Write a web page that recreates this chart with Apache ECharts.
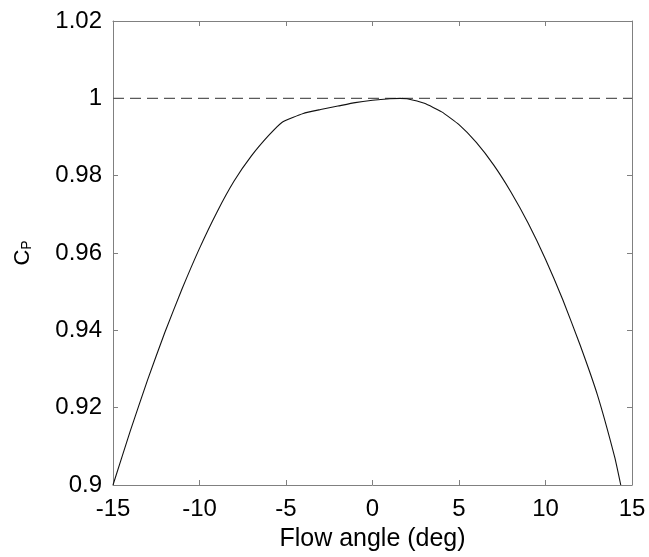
<!DOCTYPE html>
<html>
<head>
<meta charset="utf-8">
<script src="https://cdn.jsdelivr.net/npm/echarts@6/dist/echarts.min.js"></script>
<style>html,body{margin:0;padding:0;background:#fff;}#c{width:649px;height:557px;}</style>
</head>
<body>
<div id="c"></div>
<script>
// Flow angle (deg)
var flowAngle = [-15, -14, -13, -12, -11, -10, -9, -8, -7, -6, -5.2, -4, -3, -2, -1, 0, 1, 1.6, 2, 3, 4, 5, 6, 7, 8, 9, 10, 11, 12, 13, 14, 14.35];
// Pressure coefficient C_P
var cp = [0.9000, 0.9140, 0.9272, 0.9395, 0.9508, 0.9612, 0.9705, 0.9786, 0.9851, 0.9904, 0.9939, 0.9961, 0.9971, 0.9980, 0.9989, 0.9995, 0.9999, 1.0000, 0.9999, 0.9987, 0.9965, 0.9932, 0.9886, 0.9828, 0.9758, 0.9677, 0.9584, 0.9479, 0.9362, 0.9233, 0.9072, 0.9000];
var refX = [-15, 15];
var refY = [1, 1];
var xTicks = [-15, -10, -5, 0, 5, 10, 15];
var yTicks = [0.9, 0.92, 0.94, 0.96, 0.98, 1, 1.02];

var txt = '#000000';
var axisCol = '#808080';
var fontFam = 'Liberation Sans, Arial, sans-serif';

var chart = echarts.init(document.getElementById('c'), null, {renderer: 'canvas'});
function pairs(a, b) { return a.map(function (v, i) { return [v, b[i]]; }); }
function fmtY(v) { return String(Math.round(v * 100) / 100); }

var baseX = {
  type: 'value', min: xTicks[0], max: xTicks[xTicks.length - 1], interval: 5,
  axisLine: {show: true, onZero: false, lineStyle: {color: axisCol, width: 1}},
  axisTick: {show: true, inside: true, length: 5, lineStyle: {color: axisCol}},
  splitLine: {show: false}
};
var baseY = {
  type: 'value', min: yTicks[0], max: yTicks[yTicks.length - 1], interval: 0.02,
  axisLine: {show: true, onZero: false, lineStyle: {color: axisCol, width: 1}},
  axisTick: {show: true, inside: true, length: 5, lineStyle: {color: axisCol}},
  splitLine: {show: false}
};

chart.setOption({
  animation: false,
  backgroundColor: '#ffffff',
  grid: {left: 113, right: 17, top: 21, bottom: 72, containLabel: false},
  xAxis: [
    Object.assign({}, baseX, {
      position: 'bottom',
      axisLabel: {show: true, margin: 12, color: txt, fontSize: 24, fontFamily: fontFam},
      name: 'Flow angle (deg)', nameLocation: 'middle', nameGap: 42,
      nameTextStyle: {color: txt, fontSize: 25, fontFamily: fontFam}
    }),
    Object.assign({}, baseX, {position: 'top', axisLabel: {show: false}})
  ],
  yAxis: [
    Object.assign({}, baseY, {
      position: 'left',
      axisLabel: {show: true, margin: 11, color: txt, fontSize: 24, fontFamily: fontFam, formatter: fmtY},
      name: '{c|C}{p|P}', nameLocation: 'middle', nameGap: 72, nameRotate: 90,
      nameTextStyle: {
        color: txt, fontFamily: fontFam,
        rich: {
          c: {fontSize: 22, lineHeight: 22, padding: [0, 0, 10, 0], verticalAlign: 'top', color: txt, fontFamily: fontFam},
          p: {fontSize: 14, lineHeight: 14, verticalAlign: 'bottom', color: txt, fontFamily: fontFam}
        }
      }
    }),
    Object.assign({}, baseY, {position: 'right', axisLabel: {show: false}})
  ],
  series: [
    {
      type: 'line', xAxisIndex: 0, yAxisIndex: 0,
      data: pairs(refX, refY), showSymbol: false, symbol: 'none',
      lineStyle: {color: '#5a5a5a', width: 1.2, type: [11, 6]},
      silent: true, z: 2
    },
    {
      type: 'line', xAxisIndex: 0, yAxisIndex: 0,
      data: pairs(flowAngle, cp), showSymbol: false, symbol: 'none', smooth: 0.15,
      lineStyle: {color: '#111111', width: 1.1},
      clip: true, z: 3
    }
  ]
});
</script>
</body>
</html>
